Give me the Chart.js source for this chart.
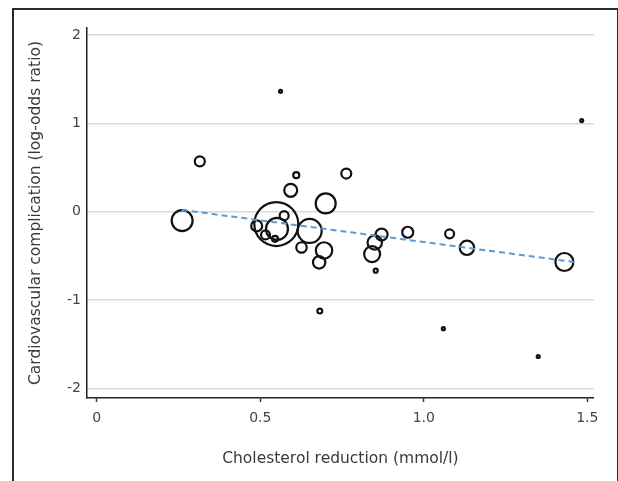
<!DOCTYPE html>
<html>
<head>
<meta charset="utf-8">
<script src="https://cdn.jsdelivr.net/npm/chart.js@4/dist/chart.umd.min.js"></script>
<style>
  body { margin: 0; background: #fff; }
  #wrap { position: relative; width: 618px; height: 481px; overflow: hidden; }
  #frame { position: absolute; left: 12px; top: 8px; width: 603px; height: 500px;
           border: 2px solid #2a2a2a; }
  canvas { position: absolute; left: 0; top: 0; }
</style>
</head>
<body>
<div id="wrap">
  <div id="frame"></div>
  <canvas id="chart" width="618" height="481"></canvas>
</div>
<script>
// Данные: каждое исследование — снижение холестерина, лог-отношение шансов, размер кружка
const cholReduction = [0.562, 1.483, 0.315, 0.61, 0.763, 0.593, 0.70, 0.261, 0.549, 0.573,
  0.489, 0.551, 0.516, 0.545, 0.651, 0.626, 0.695, 0.68, 0.871, 0.85,
  0.842, 0.853, 0.951, 1.079, 1.132, 1.43, 0.682, 1.06, 1.35];
const logOdds = [1.363, 1.032, 0.57, 0.413, 0.432, 0.242, 0.093, -0.101, -0.14, -0.045,
  -0.161, -0.195, -0.263, -0.308, -0.218, -0.405, -0.439, -0.574, -0.259, -0.349,
  -0.48, -0.668, -0.233, -0.251, -0.409, -0.57, -1.126, -1.325, -1.64];
const studySize = [1.5, 1.5, 5, 3, 5, 6.5, 10, 10.5, 22, 4.5,
  5.5, 11, 4.5, 3, 12, 5.2, 8.2, 6.2, 6, 7.2,
  8, 2, 5.5, 4.5, 7.2, 9, 2.4, 1.5, 1.5];

// Линия регрессии
const fitX = [0.26, 1.46];
const fitY = [0.02, -0.57];

const xTicks = [0, 0.5, 1.0, 1.5];
const xTickLabels = ["0", "0.5", "1.0", "1.5"];
const yTicks = [-2, -1, 0, 1, 2];

const font = { family: "'DejaVu Sans', sans-serif", size: 14 };
const titleFont = { family: "'DejaVu Sans', sans-serif", size: 15.5 };

new Chart(document.getElementById("chart").getContext("2d"), {
  type: "bubble",
  data: {
    datasets: [
      {
        type: "line",
        data: fitX.map((x, i) => ({ x: x, y: fitY[i] })),
        borderColor: "#5b9bd5",
        borderWidth: 2,
        borderDash: [6, 4],
        pointRadius: 0,
        fill: false,
        order: 0
      },
      {
        data: cholReduction.map((x, i) => ({ x: x, y: logOdds[i], r: studySize[i] })),
        backgroundColor: "rgba(0,0,0,0)",
        borderColor: "#111",
        borderWidth: 2.2,
        order: 1
      }
    ]
  },
  options: {
    responsive: false,
    animation: false,
    layout: { padding: { left: 0, top: 28, right: 21, bottom: 0 } },
    plugins: {
      legend: { display: false },
      tooltip: { enabled: false }
    },
    scales: {
      x: {
        type: "linear",
        min: -0.03,
        max: 1.52,
        afterBuildTicks: (scale) => { scale.ticks = xTicks.map(v => ({ value: v })); },
        afterFit: (scale) => { scale.height = 83; },
        ticks: {
          color: "#444",
          font: font,
          padding: 8,
          callback: (v) => xTickLabels[xTicks.indexOf(v)]
        },
        grid: { drawOnChartArea: false, drawTicks: true, tickLength: 4, tickColor: "#333", tickWidth: 1.5 },
        border: { display: true, color: "#222", width: 1.5 },
        title: {
          display: true,
          text: "Cholesterol reduction (mmol/l)",
          color: "#3a3a3a",
          font: titleFont,
          padding: { top: 13, bottom: 13 }
        }
      },
      y: {
        type: "linear",
        min: -2.11,
        max: 2.08,
        afterBuildTicks: (scale) => { scale.ticks = yTicks.map(v => ({ value: v })); },
        afterFit: (scale) => { scale.width = 87; },
        ticks: { color: "#444", font: font, padding: 6 },
        grid: { color: "#d9d9d9", lineWidth: 1.5, drawTicks: false },
        border: { display: true, color: "#222", width: 1.5 },
        title: {
          display: true,
          text: "Cardiovascular complication (log-odds ratio)",
          color: "#3a3a3a",
          font: titleFont,
          padding: { top: 27, bottom: 27 }
        }
      }
    }
  }
});
</script>
</body>
</html>
